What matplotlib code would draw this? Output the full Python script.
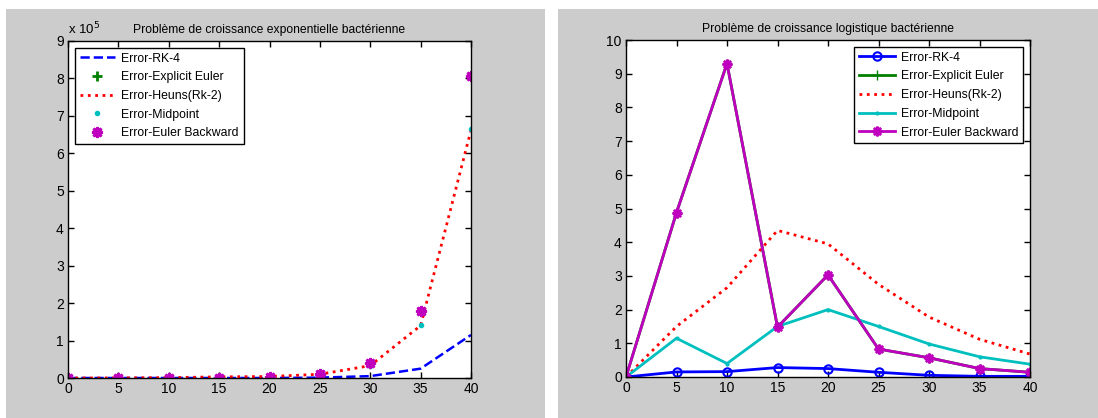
import matplotlib
matplotlib.use("Agg")
import matplotlib.pyplot as plt
from matplotlib.patches import Rectangle
from matplotlib.ticker import FuncFormatter

plt.rcParams['font.family'] = ['Liberation Sans', 'DejaVu Sans']

# ---------------- data ----------------
t = [0, 5, 10, 15, 20, 25, 30, 35, 40]

# exponential growth errors (units of 1e5)
exp_scale = 1e5
exp_rk4 = [0.0, 0.0, 0.0, 0.0, 0.0, 0.01, 0.05, 0.25, 1.15]
exp_euler = [0.0, 0.0, 0.01, 0.01, 0.02, 0.1, 0.4, 1.8, 8.07]
exp_heun = [0.0, 0.003, 0.01, 0.03, 0.04, 0.1, 0.33, 1.4, 6.62]
exp_mid = [0.0, 0.003, 0.01, 0.03, 0.04, 0.09, 0.32, 1.42, 6.65]
exp_back = [0.0, 0.0, 0.01, 0.01, 0.02, 0.1, 0.4, 1.8, 8.07]

# logistic growth errors
log_rk4 = [0.0, 0.15, 0.16, 0.28, 0.25, 0.14, 0.05, 0.02, 0.02]
log_euler = [0.0, 4.88, 9.3, 1.48, 3.03, 0.83, 0.57, 0.25, 0.14]
log_heun = [0.0, 1.5, 2.65, 4.35, 3.95, 2.75, 1.78, 1.12, 0.68]
log_mid = [0.0, 1.15, 0.4, 1.5, 2.0, 1.5, 0.98, 0.6, 0.38]
log_back = [0.0, 4.88, 9.3, 1.48, 3.03, 0.83, 0.57, 0.25, 0.14]

labels = ['Error-RK-4', 'Error-Explicit Euler', 'Error-Heuns(Rk-2)',
          'Error-Midpoint', 'Error-Euler Backward']
title_exp = 'Problème de croissance exponentielle bactérienne'
title_log = 'Problème de croissance logistique bactérienne'

BLUE = (0, 0, 1)
GREEN = (0, 0.5, 0)
RED = (1, 0, 0)
CYAN = (0, 0.75, 0.75)
MAG = (0.75, 0, 0.75)
GRAY = '#cccccc'
ASTER = (8, 2, 0)

W, H = 1098, 418
fig = plt.figure(figsize=(W / 100, H / 100), dpi=100)
fig.patch.set_facecolor('white')

def px(x0, y0, x1, y1):
    return [x0 / W, 1 - y1 / H, (x1 - x0) / W, (y1 - y0) / H]

# gray panels
fig.patches.append(Rectangle((6 / W, 0), (545 - 6) / W, 1 - 9 / H,
                             transform=fig.transFigure, facecolor=GRAY,
                             edgecolor='none', zorder=-10))
fig.patches.append(Rectangle((558 / W, 0), (W - 558) / W, 1 - 9 / H,
                             transform=fig.transFigure, facecolor=GRAY,
                             edgecolor='none', zorder=-10))

def style(ax):
    ax.set_facecolor('white')
    for s in ax.spines.values():
        s.set_color('black')
        s.set_linewidth(1.0)
    ax.tick_params(direction='in', length=4, width=1, top=True, right=True,
                   labelsize=10, colors='black', pad=3)
    ax.set_xlim(0, 40)
    ax.set_xticks(t)

LEG = dict(fontsize=8.8, frameon=True, fancybox=False, framealpha=1,
           edgecolor='black', borderpad=0.4, labelspacing=0.55,
           handlelength=2.9, handletextpad=0.5, borderaxespad=0.55)

# ---------------- left ----------------
ax1 = fig.add_axes(px(68, 41, 471, 378))
style(ax1)
e = exp_scale
ax1.plot(t, [v * e for v in exp_rk4], '--', color=BLUE, lw=1.8, label=labels[0])
ax1.plot(t, [v * e for v in exp_euler], '+', color=GREEN, ms=7, mew=2, label=labels[1])
ax1.plot(t, [v * e for v in exp_heun], ':', color=RED, lw=2, label=labels[2])
ax1.plot(t, [v * e for v in exp_mid], '.', color=CYAN, ms=6, label=labels[3])
ax1.plot(t, [v * e for v in exp_back], marker=ASTER, ls='none', color=MAG,
         ms=8, mew=2.0, label=labels[4])
ax1.set_ylim(0, 9 * e)
ax1.set_yticks([i * e for i in range(10)])
ax1.yaxis.set_major_formatter(FuncFormatter(lambda v, p: '%d' % round(v / e)))
ax1.set_title(title_exp, fontsize=8.7, pad=6)
ax1.text(0.0, 1.012, 'x 10$^{5}$', transform=ax1.transAxes, fontsize=9.5,
         ha='left', va='bottom')
leg1 = ax1.legend(loc='upper left', **LEG)
leg1.get_frame().set_linewidth(1.0)

# ---------------- right ----------------
ax2 = fig.add_axes(px(626, 40, 1030, 377))
style(ax2)
ax2.plot(t, log_rk4, '-o', color=BLUE, lw=2, ms=6, mfc='none', mew=1.5, label=labels[0])
ax2.plot(t, log_euler, '-+', color=GREEN, lw=2, ms=7, label=labels[1])
ax2.plot(t, log_heun, ':', color=RED, lw=2, label=labels[2])
ax2.plot(t, log_mid, '-', color=CYAN, lw=2, marker='.', ms=4, label=labels[3])
ax2.plot(t, log_back, '-', marker=ASTER, color=MAG, lw=2, ms=7, mew=1.8, label=labels[4])
ax2.set_ylim(0, 10)
ax2.set_yticks(range(11))
ax2.set_title(title_log, fontsize=8.7, pad=6)
leg2 = ax2.legend(loc='upper right', **LEG)
leg2.get_frame().set_linewidth(1.0)

fig.savefig('out.png', dpi=100, facecolor=fig.get_facecolor())
